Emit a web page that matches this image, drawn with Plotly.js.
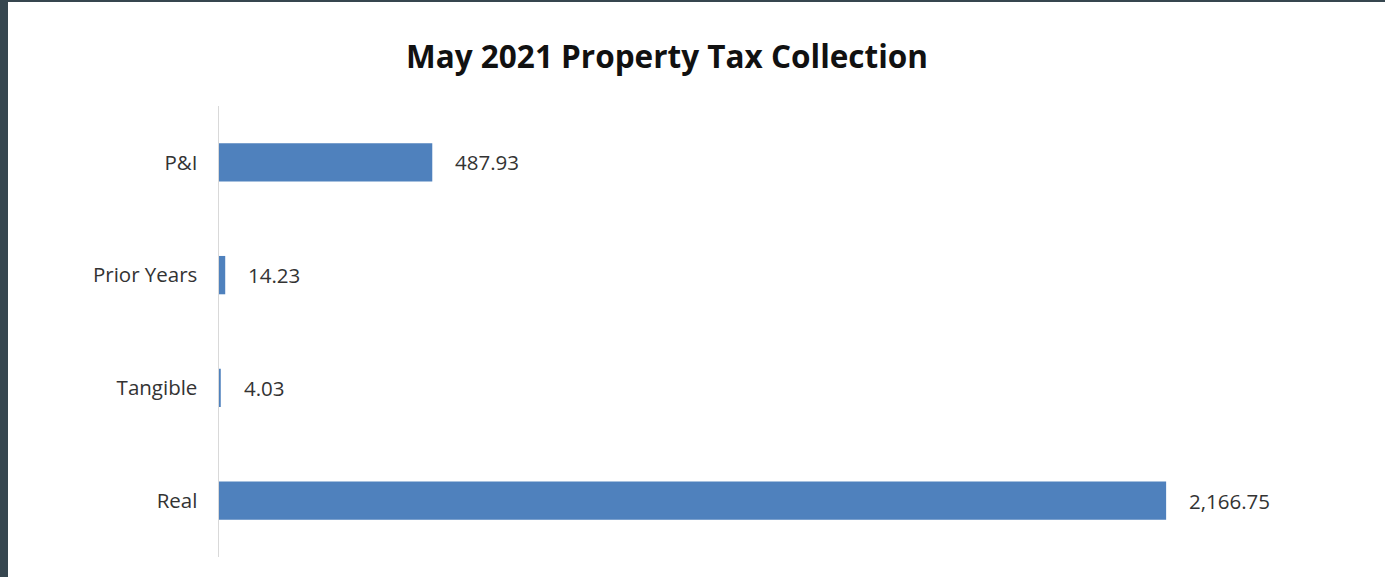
<!DOCTYPE html>
<html>
<head>
<meta charset="utf-8">
<script src="https://cdn.plot.ly/plotly-3.0.1.min.js"></script>
<style>
  html, body { margin: 0; padding: 0; background: #36464f; width: 1385px; height: 577px; overflow: hidden; }
  #chart { position: absolute; left: 8px; top: 2px; width: 1377px; height: 575px; background: #fff; }
</style>
</head>
<body>
<div id="chart"></div>
<script>
const categories = ['P&I', 'Prior Years', 'Tangible', 'Real'];
const values = [487.93, 14.23, 4.03, 2166.75];
const titleText = 'May 2021 Property Tax Collection';

function fmt(v) {
  return v.toLocaleString('en-US', {minimumFractionDigits: 2, maximumFractionDigits: 2});
}

const trace = {
  type: 'bar',
  orientation: 'h',
  x: values,
  y: categories,
  marker: { color: '#4f81bd', line: { width: 0 } },
  hoverinfo: 'none'
};

const annotations = values.map((v, i) => ({
  x: v, y: categories[i], xref: 'x', yref: 'y',
  text: fmt(v), showarrow: false, xanchor: 'left', yanchor: 'middle',
  xshift: 21,
  font: { family: '"Open Sans", sans-serif', size: 20.5, color: '#333333' }
}));

const layout = {
  width: 1377, height: 575,
  margin: { l: 211, r: 85, t: 104, b: 20 },
  paper_bgcolor: '#ffffff', plot_bgcolor: '#ffffff',
  showlegend: false,
  bargap: 0.66,
  title: {
    text: '<b>' + titleText + '</b>',
    x: 0.4786, xanchor: 'center', xref: 'container',
    y: 0.905, yanchor: 'middle', yref: 'container',
    font: { family: '"Open Sans", sans-serif', size: 31.5, color: '#111111' }
  },
  xaxis: {
    range: [0, 2473], showgrid: false, zeroline: false,
    showticklabels: false, showline: false, ticks: ''
  },
  yaxis: {
    type: 'category', range: [3.5, -0.5],
    showgrid: false, zeroline: false,
    showline: true, linecolor: '#d9d9d9', linewidth: 1.5,
    ticks: '', ticklabelstandoff: 16,
    tickfont: { family: '"Open Sans", sans-serif', size: 20.5, color: '#333333' }
  },
  annotations: annotations
};

Plotly.newPlot('chart', [trace], layout, { displayModeBar: false, staticPlot: true });
</script>
</body>
</html>
